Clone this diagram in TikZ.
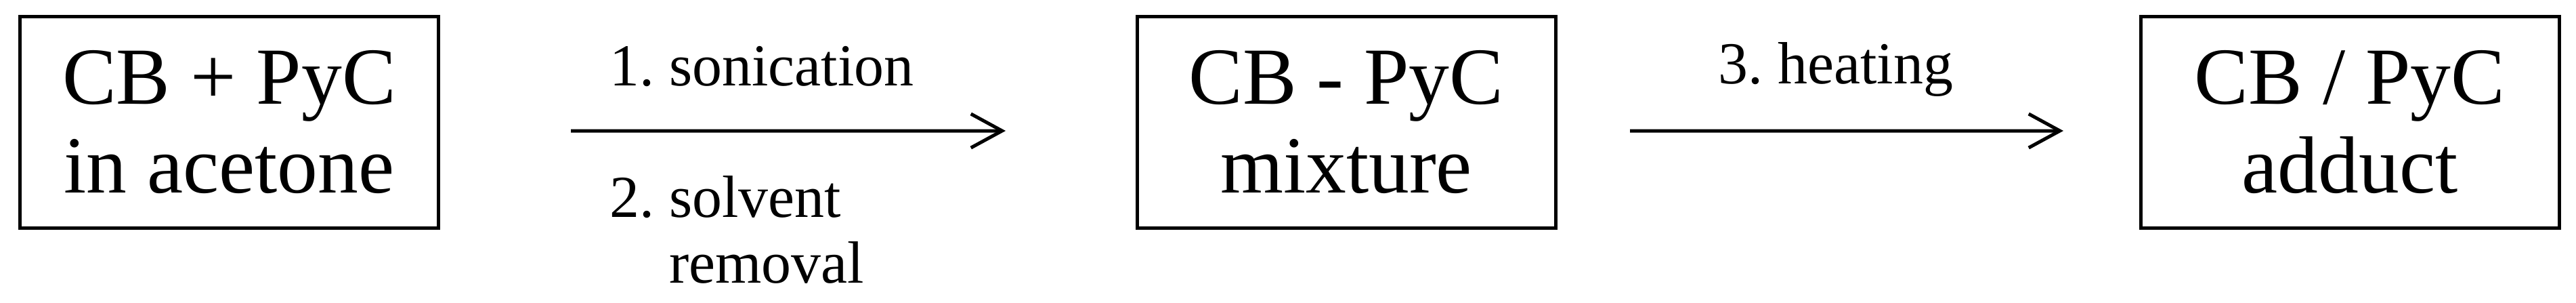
\documentclass[tikz,border=0pt]{standalone}
\usepackage{fontspec}
\setmainfont{Liberation Serif}
\usetikzlibrary{arrows.meta}
\tikzset{
	stage/.style={draw, line width=0.05cm, minimum width=6.18cm,
		minimum height=3.12cm, inner sep=0pt, align=center,
		font=\fontsize{34}{37}\selectfont},
	steplabel/.style={inner sep=0pt, anchor=base west,
		font=\fontsize{25}{27.8}\selectfont},
	flow/.style={line width=0.05cm, -{Straight Barb[length=0.46cm, width=0.5cm]}}
}
\begin{document}
\begin{tikzpicture}
			[level 1/.style={level distance=16.495cm},
			level 2/.style={level distance=14.82cm},
			edge from parent/.style={draw, flow},
			edge from parent path={([yshift=-1.3mm]\tikzparentnode.east) -- ([yshift=-1.3mm]\tikzchildnode.west)}]
			\useasboundingbox (0,0) rectangle (38.04,-4.46);
			\node[stage] (cb) at (3.385,-1.8) {CB + PyC\\in acetone} [grow'=right]
			child {node[stage] (mix) {CB - PyC\\mixture}
				child {node[stage] (add) {CB / PyC\\adduct}
					edge from parent[shorten <=1.075cm, shorten >=1.115cm]
					node[steplabel, pos=0.274, yshift=0.70cm] (s3) {3.~heating}
				}
				edge from parent[shorten <=1.93cm, shorten >=1.915cm]
				node[steplabel, pos=0.2416, yshift=0.67cm] (s1) {1.~sonication}
				node[steplabel, pos=0.2416, yshift=-1.27cm] (s2) {\begin{tabular}[t]{@{}l@{~}l@{}}2. & solvent\\ & removal\end{tabular}}
			}
			;
		\end{tikzpicture}
\end{document}
